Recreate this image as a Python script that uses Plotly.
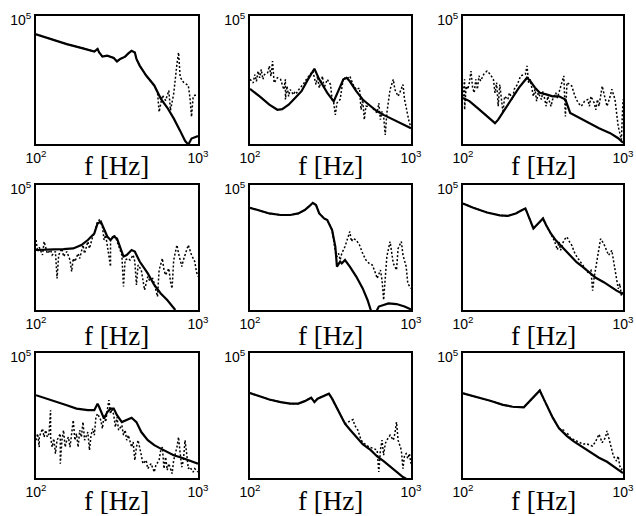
import numpy as np
import plotly.graph_objects as go

p1_solid_logf = [2.00,2.09,2.19,2.29,2.36,2.38,2.39,2.41,2.44,2.48,2.50,2.52,2.55,2.57,2.59,2.61,2.62,2.64,2.68,2.73,2.77,2.81,2.85,2.89,2.92,2.94,2.96,3.00]
p1_solid_logA = [4.43,4.28,4.12,3.99,3.89,3.97,3.86,3.73,3.76,3.69,3.58,3.66,3.73,3.83,3.91,3.86,3.66,3.45,3.14,2.83,2.42,2.14,1.80,1.41,1.10,0.98,1.17,1.25]
p1_dot_logf = [2.00,2.09,2.19,2.29,2.36,2.38,2.39,2.41,2.44,2.48,2.50,2.52,2.55,2.57,2.59,2.61,2.62,2.64,2.68,2.73,2.75,2.76,2.78,2.80,2.82,2.83,2.85,2.87,2.88,2.89,2.91,2.94,2.95,2.96,2.97,2.98,3.00]
p1_dot_logA = [4.43,4.28,4.12,3.99,3.89,3.97,3.86,3.73,3.76,3.69,3.58,3.66,3.73,3.83,3.91,3.86,3.66,3.45,3.14,2.83,2.62,2.00,2.52,2.36,2.67,2.05,2.57,3.50,3.86,3.09,2.93,2.83,2.47,1.85,2.47,2.52,2.52]

p2_solid_logf = [2.00,2.06,2.12,2.17,2.20,2.24,2.28,2.32,2.36,2.40,2.43,2.48,2.52,2.55,2.58,2.60,2.62,2.66,2.70,2.75,2.79,2.83,2.87,2.91,2.95,3.00]
p2_solid_logA = [2.72,2.49,2.23,2.07,2.09,2.23,2.44,2.65,3.02,3.35,3.02,2.60,2.33,2.65,3.02,3.07,2.96,2.65,2.39,2.18,2.02,1.91,1.81,1.70,1.60,1.49]
p2_dot_logf = [2.00,2.02,2.03,2.04,2.05,2.06,2.07,2.08,2.09,2.11,
               2.12,2.13,2.14,2.15,2.17,2.19,2.20,2.21,2.22,2.22,
               2.23,2.24,2.25,2.27,2.28,2.29,2.31,2.33,2.35,2.37,
               2.39,2.41,2.42,2.43,2.45,2.46,2.48,2.50,2.51,2.52,
               2.53,2.54,2.56,2.58,2.60,2.62,2.64,2.66,2.68,2.69,
               2.70,2.71,2.72,2.75,2.77,2.79,2.80,2.81,2.82,2.83,
               2.84,2.85,2.87,2.89,2.90,2.92,2.93,2.95,2.96,2.98,
               2.99,3.00]
p2_dot_logA = [3.02,2.91,3.17,2.96,3.28,3.07,3.33,3.02,3.17,3.23,
               3.44,3.12,3.59,2.91,3.07,3.02,2.86,2.70,3.02,2.39,
               2.81,2.49,2.70,2.54,2.65,2.60,2.75,2.86,3.02,3.17,
               3.28,2.86,3.12,2.75,3.12,2.75,3.02,2.86,2.39,2.28,
               1.91,2.28,2.39,3.07,3.02,3.12,2.86,2.70,2.75,2.07,
               2.39,1.76,2.18,2.18,2.07,1.97,2.28,1.76,2.02,1.86,
               1.28,1.97,2.70,3.02,2.70,2.49,2.60,2.86,2.39,1.86,
               1.65,1.55]

p3_solid_logf = [2.00,2.04,2.09,2.15,2.18,2.20,2.22,2.26,2.31,2.35,2.40,2.42,2.45,2.48,2.52,2.56,2.60,2.64,2.67,2.73,2.79,2.85,2.92,2.97,3.00]
p3_solid_logA = [2.44,2.34,2.13,1.86,1.71,1.65,1.76,2.07,2.44,2.76,3.07,2.97,2.76,2.60,2.55,2.49,2.49,2.39,1.97,1.81,1.65,1.49,1.34,1.18,1.04]
p3_dot_logf = [2.00,2.01,2.01,2.02,2.03,2.04,2.05,2.06,2.07,2.08,
               2.09,2.10,2.11,2.13,2.15,2.17,2.19,2.20,2.21,2.22,
               2.23,2.24,2.25,2.26,2.28,2.29,2.31,2.32,2.34,2.36,
               2.39,2.40,2.41,2.42,2.44,2.45,2.46,2.47,2.49,2.50,
               2.52,2.53,2.55,2.56,2.58,2.59,2.61,2.63,2.64,2.65,
               2.68,2.70,2.72,2.74,2.76,2.78,2.79,2.80,2.82,2.83,
               2.84,2.85,2.87,2.89,2.90,2.92,2.93,2.95,2.96,2.97,
               2.98,2.99,3.00]
p3_dot_logA = [2.49,3.02,2.07,2.81,2.71,2.92,3.28,2.76,2.60,3.02,
               2.71,3.13,2.97,3.18,3.28,3.18,3.02,2.60,2.92,2.18,
               2.86,2.39,1.97,2.49,2.39,2.60,2.39,2.71,2.86,3.13,
               3.18,3.44,2.92,3.02,2.49,2.71,2.34,2.60,2.39,2.65,
               2.18,2.49,2.18,2.39,2.60,2.44,2.81,3.13,1.86,2.92,
               2.81,2.49,2.28,2.18,2.34,2.39,2.18,2.49,2.28,2.07,
               2.39,2.18,2.81,2.39,2.18,2.49,2.71,2.39,1.86,1.55,
               1.34,1.13,2.39]

p4_solid_logf = [2.00,2.05,2.11,2.17,2.23,2.28,2.32,2.36,2.38,2.40,2.42,2.44,2.46,2.48,2.50,2.52,2.54,2.56,2.59,2.61,2.64,2.69,2.73,2.77,2.81,2.86]
p4_solid_logA = [2.92,2.94,2.94,2.95,2.97,3.08,3.24,3.45,3.77,3.83,3.56,3.35,3.24,3.35,3.29,3.03,2.71,2.76,2.92,2.87,2.55,2.17,1.80,1.53,1.32,1.00]
p4_dot_logf = [2.00,2.01,2.02,2.04,2.05,2.07,2.09,2.10,2.12,2.13,
               2.14,2.16,2.17,2.19,2.21,2.22,2.23,2.24,2.26,2.27,
               2.29,2.30,2.32,2.33,2.35,2.36,2.38,2.39,2.41,2.42,
               2.43,2.45,2.46,2.46,2.48,2.49,2.50,2.52,2.53,2.54,
               2.55,2.57,2.58,2.60,2.61,2.62,2.63,2.65,2.67,2.69,
               2.70,2.72,2.73,2.75,2.76,2.78,2.79,2.80,2.82,2.83,
               2.84,2.85,2.87,2.88,2.90,2.91,2.93,2.94,2.96,2.98,
               2.99,3.00]
p4_dot_logA = [3.24,2.87,3.01,2.76,3.19,2.81,2.92,2.76,2.87,2.01,
               2.76,2.97,2.71,2.87,2.60,2.23,2.65,2.55,2.81,2.65,
               3.08,2.81,3.19,2.97,3.35,3.45,3.83,3.88,3.67,3.24,
               3.40,2.81,2.39,3.24,3.40,3.35,3.19,2.87,2.76,1.75,
               2.60,2.65,2.60,2.76,2.55,1.80,2.44,2.28,1.64,2.07,
               1.96,2.01,1.85,1.43,2.28,2.65,2.28,2.12,2.33,1.91,
               1.69,2.60,3.08,2.81,2.39,2.60,2.92,3.08,2.76,2.55,
               2.23,2.07]

p5_solid_logf = [2.00,2.06,2.12,2.19,2.25,2.30,2.34,2.37,2.39,2.41,2.43,2.46,2.48,2.51,2.53,2.54,2.56,2.57,2.59,2.62,2.66,2.70,2.73,2.75,2.76,2.80,2.86,2.91,2.96,3.00]
p5_solid_logA = [4.27,4.18,4.09,4.04,4.04,4.09,4.20,4.33,4.43,4.36,4.09,3.93,3.88,3.56,3.03,2.39,2.55,2.49,2.60,2.39,2.07,1.69,1.32,1.00,0.70,1.11,1.21,1.19,1.11,1.02]
p5_dot_logf = [2.00,2.06,2.12,2.19,2.25,2.30,2.34,2.37,2.39,2.41,2.43,2.46,2.48,2.51,
               2.52,2.53,2.54,2.55,2.56,2.57,2.59,2.60,2.62,2.63,
               2.64,2.66,2.68,2.70,2.72,2.74,2.76,2.78,2.79,2.81,
               2.82,2.83,2.84,2.85,2.87,2.88,2.89,2.91,2.92,2.94,
               2.95,2.97,2.98,3.00]
p5_dot_logA = [4.27,4.18,4.09,4.04,4.04,4.09,4.20,4.33,4.43,4.36,4.09,3.93,3.88,3.56,
               3.19,2.87,2.71,2.81,2.60,2.81,3.03,3.19,3.51,3.19,
               3.29,3.24,3.08,2.81,2.60,2.49,2.44,2.17,2.01,2.28,
               1.96,1.32,1.96,2.71,3.19,2.81,2.49,2.28,2.97,3.19,
               2.76,2.39,1.85,1.69]

p6_solid_logf = [2.00,2.06,2.15,2.23,2.28,2.33,2.37,2.39,2.42,2.44,2.47,2.50,2.52,2.55,2.58,2.63,2.67,2.71,2.75,2.79,2.83,2.88,2.92,2.96,3.00]
p6_solid_logA = [4.41,4.28,4.12,4.03,4.01,4.09,4.20,4.25,3.87,3.61,3.77,3.93,3.71,3.44,3.23,2.96,2.75,2.53,2.37,2.21,2.03,1.89,1.75,1.62,1.51]
p6_dot_logf = [2.00,2.06,2.15,2.23,2.28,2.33,2.37,2.39,2.42,2.44,2.47,2.50,2.52,2.55,
               2.57,2.59,2.60,2.61,2.63,2.65,2.66,2.68,2.70,2.72,
               2.75,2.78,2.80,2.81,2.82,2.83,2.85,2.86,2.88,2.90,
               2.91,2.93,2.94,2.95,2.96,2.97,2.98,2.99,3.00]
p6_dot_logA = [4.41,4.28,4.12,4.03,4.01,4.09,4.20,4.25,3.87,3.61,3.77,3.93,3.71,3.44,
               3.23,2.93,3.18,2.91,3.23,3.34,3.23,3.07,2.80,2.64,
               2.43,2.21,2.27,1.62,2.05,2.37,2.91,3.28,3.12,2.86,
               2.75,2.91,2.59,2.27,2.05,1.68,1.84,1.46,1.57]

p7_solid_logf = [2.00,2.07,2.13,2.19,2.25,2.32,2.36,2.38,2.39,2.41,2.42,2.44,2.46,2.48,2.50,2.53,2.56,2.59,2.62,2.65,2.69,2.73,2.77,2.81,2.85,2.90,2.94,2.97,3.00]
p7_solid_logA = [3.65,3.54,3.43,3.33,3.22,3.17,3.17,3.38,3.27,3.01,2.90,3.11,3.22,3.22,3.01,2.79,2.85,2.93,2.79,2.47,2.21,2.05,1.94,1.83,1.73,1.65,1.57,1.51,1.46]
p7_dot_logf = [2.00,2.01,2.02,2.02,2.04,2.05,2.06,2.07,2.08,2.09,
               2.09,2.10,2.11,2.12,2.13,2.15,2.15,2.16,2.17,2.18,
               2.19,2.20,2.21,2.22,2.23,2.24,2.25,2.26,2.27,2.28,
               2.29,2.30,2.32,2.33,2.34,2.35,2.36,2.37,2.38,2.40,
               2.41,2.42,2.43,2.44,2.45,2.46,2.47,2.48,2.49,2.50,
               2.51,2.53,2.54,2.55,2.56,2.57,2.59,2.60,2.61,2.62,
               2.63,2.65,2.66,2.68,2.69,2.71,2.73,2.74,2.76,2.77,
               2.78,2.79,2.80,2.81,2.82,2.84,2.85,2.87,2.88,2.89,
               2.90,2.91,2.92,2.93,2.94,2.95,2.97,2.98,3.00]
p7_dot_logA = [2.21,2.42,1.99,2.31,2.58,2.31,2.53,2.31,2.42,3.17,
               2.31,1.99,2.26,1.78,2.21,2.42,1.46,2.21,2.53,1.99,
               2.21,2.31,1.99,2.37,2.85,2.21,2.42,1.99,2.53,2.31,
               2.79,2.21,2.47,1.89,2.37,2.58,2.37,2.95,3.06,2.85,
               2.58,3.01,2.79,3.17,3.49,3.06,3.22,3.01,2.63,2.95,
               2.53,2.69,2.37,2.53,2.21,2.37,1.99,2.15,1.57,1.99,
               2.21,1.73,1.46,1.57,1.30,1.46,1.19,1.41,1.57,1.89,
               1.99,1.30,1.67,1.25,1.46,1.14,1.57,1.99,2.31,1.78,
               1.35,1.57,2.21,1.78,1.30,1.35,1.19,1.30,1.19]

p8_solid_logf = [2.00,2.06,2.12,2.19,2.25,2.30,2.34,2.38,2.40,2.42,2.45,2.48,2.49,2.51,2.53,2.56,2.59,2.62,2.66,2.70,2.75,2.79,2.83,2.87,2.91,2.95,2.97]
p8_solid_logA = [3.72,3.61,3.51,3.43,3.38,3.38,3.46,3.57,3.43,3.54,3.61,3.70,3.70,3.54,3.33,3.01,2.74,2.55,2.31,2.08,1.89,1.69,1.54,1.37,1.19,1.03,0.98]
p8_dot_logf = [2.00,2.06,2.12,2.19,2.25,2.30,2.34,2.38,2.40,2.42,2.45,2.48,2.49,2.51,2.53,2.56,2.59,
               2.64,2.65,2.67,2.69,2.71,2.74,2.77,2.79,2.80,2.81,
               2.82,2.83,2.84,2.85,2.87,2.89,2.90,2.91,2.92,2.94,
               2.95,2.96,2.97,2.98,2.99,3.00]
p8_dot_logA = [3.72,3.61,3.51,3.43,3.38,3.38,3.46,3.57,3.43,3.54,3.61,3.70,3.70,3.54,3.33,3.01,2.74,
               2.87,2.69,2.53,2.21,2.10,1.99,1.94,1.89,1.19,1.89,
               2.21,1.73,2.10,2.21,2.37,2.21,2.42,2.79,2.21,1.89,
               1.30,1.73,1.78,1.62,1.78,1.46]

p9_solid_logf = [2.00,2.08,2.17,2.25,2.31,2.38,2.40,2.43,2.46,2.48,2.50,2.53,2.56,2.60,2.65,2.69,2.73,2.77,2.81,2.85,2.90,2.94,2.97,3.00]
p9_solid_logA = [3.71,3.60,3.47,3.34,3.28,3.26,3.37,3.53,3.69,3.80,3.58,3.26,2.94,2.59,2.34,2.18,2.05,1.91,1.77,1.65,1.52,1.38,1.27,1.16]
p9_dot_logf = [2.00,2.08,2.17,2.25,2.31,2.38,2.40,2.43,2.46,2.48,2.50,2.53,2.56,2.60,
               2.63,2.64,2.65,2.67,2.69,2.71,2.73,2.75,2.77,2.79,
               2.81,2.83,2.85,2.87,2.89,2.90,2.91,2.93,2.94,2.96,
               2.97,2.98,2.99,3.00]
p9_dot_logA = [3.71,3.60,3.47,3.34,3.28,3.26,3.37,3.53,3.69,3.80,3.58,3.26,2.94,2.59,
               2.53,2.34,2.45,2.29,2.24,2.18,2.13,2.08,2.10,2.05,
               2.02,2.18,2.40,2.13,2.29,2.51,2.29,1.91,1.70,1.54,
               1.70,1.38,1.27,1.32]

x_tick_values = [100, 1000]
x_tick_labels = ["10<sup>2</sup>", "10<sup>3</sup>"]
y_tick_values = [1e5]
y_tick_labels = ["10<sup>5</sup>"]
x_title = "f [Hz]"

panels = [
    (p1_solid_logf, p1_solid_logA, p1_dot_logf, p1_dot_logA),
    (p2_solid_logf, p2_solid_logA, p2_dot_logf, p2_dot_logA),
    (p3_solid_logf, p3_solid_logA, p3_dot_logf, p3_dot_logA),
    (p4_solid_logf, p4_solid_logA, p4_dot_logf, p4_dot_logA),
    (p5_solid_logf, p5_solid_logA, p5_dot_logf, p5_dot_logA),
    (p6_solid_logf, p6_solid_logA, p6_dot_logf, p6_dot_logA),
    (p7_solid_logf, p7_solid_logA, p7_dot_logf, p7_dot_logA),
    (p8_solid_logf, p8_solid_logA, p8_dot_logf, p8_dot_logA),
    (p9_solid_logf, p9_solid_logA, p9_dot_logf, p9_dot_logA),
]

W, H = 636, 516
col_px = [(36, 198), (250, 411), (463, 623)]
row_px = [(16, 144), (185, 310), (353, 478)]
title_off = [22, 26, 23]

fig = go.Figure()
layout = dict(width=W, height=H, autosize=False, margin=dict(l=0, r=0, t=0, b=0, pad=0),
              paper_bgcolor="white", plot_bgcolor="white", showlegend=False,
              annotations=[])

for i, (sf, sa, df, da) in enumerate(panels):
    n = i + 1
    r, c = divmod(i, 3)
    xs = "x" if n == 1 else f"x{n}"
    ys = "y" if n == 1 else f"y{n}"
    fig.add_trace(go.Scatter(x=10 ** np.array(df), y=10 ** np.array(da), mode="lines",
                             line=dict(color="black", width=1.5, dash="2px,2px"),
                             xaxis=xs, yaxis=ys, hoverinfo="skip"))
    fig.add_trace(go.Scatter(x=10 ** np.array(sf), y=10 ** np.array(sa), mode="lines",
                             line=dict(color="black", width=2.2),
                             xaxis=xs, yaxis=ys, hoverinfo="skip"))
    x0, x1 = col_px[c]
    t, b = row_px[r]
    xd = [x0 / W, x1 / W]
    yd = [1 - b / H, 1 - t / H]
    axcommon = dict(showline=True, mirror=True, linecolor="black", linewidth=2,
                    showgrid=False, zeroline=False, ticks="", automargin=False,
                    tickfont=dict(family="Liberation Sans, Arial, sans-serif", size=14, color="black"))
    layout["xaxis" if n == 1 else f"xaxis{n}"] = dict(
        domain=xd, anchor=ys, type="log", range=[2, 3],
        tickvals=x_tick_values, ticktext=x_tick_labels, **axcommon)
    layout["yaxis" if n == 1 else f"yaxis{n}"] = dict(
        domain=yd, anchor=xs, type="log", range=[1, 5], ticklabelshift=4,
        tickvals=y_tick_values, ticktext=y_tick_labels, **axcommon)
    layout["annotations"].append(dict(
        text=x_title, x=(x0 + x1) / 2 / W, y=1 - (b + title_off[r]) / H,
        xref="paper", yref="paper", xanchor="center", yanchor="middle", showarrow=False,
        font=dict(family="Liberation Serif, Times New Roman, serif", size=27, color="black")))

fig.update_layout(**layout)
fig.write_html("out.html", config={"displayModeBar": False},
               post_script="document.body.style.margin='0';document.body.style.padding='0';")
